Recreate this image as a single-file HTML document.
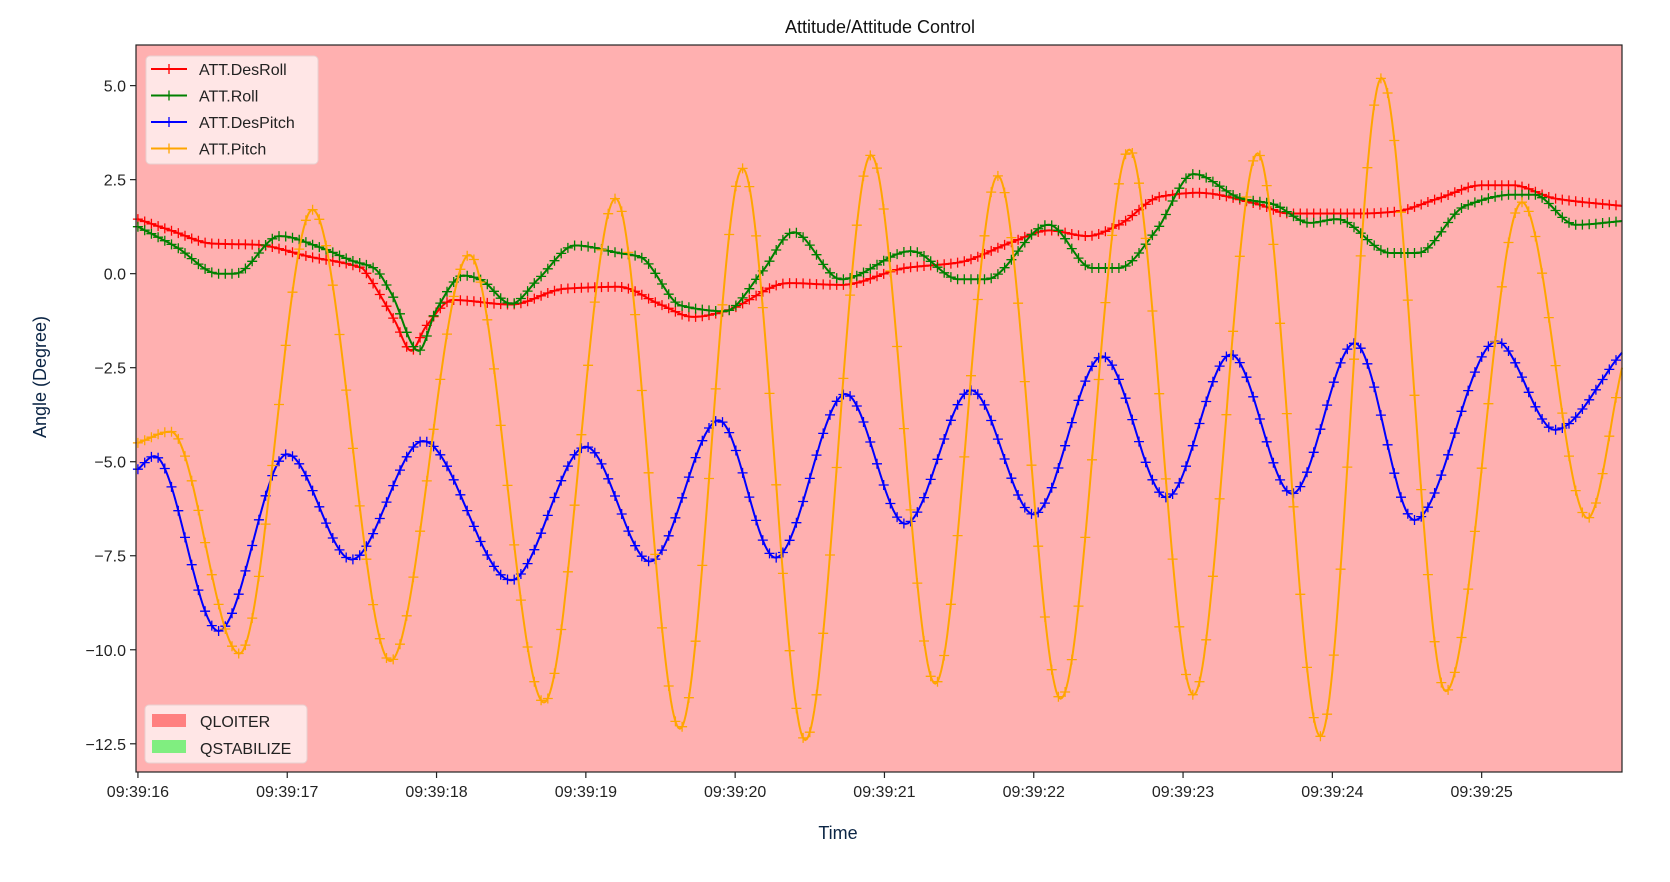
<!DOCTYPE html>
<html><head><meta charset="utf-8"><style>
html,body{margin:0;padding:0;background:#fff;}
svg{display:block;font-family:"Liberation Sans","DejaVu Sans",sans-serif;}
</style></head><body>
<svg id="chart" width="1670" height="882" viewBox="0 0 1670 882" xmlns="http://www.w3.org/2000/svg">
<text x="880" y="33" text-anchor="middle" font-size="18" fill="#111">Attitude/Attitude Control</text>
<rect x="136" y="45" width="1486" height="727" fill="#ffb0b0"/>
<g id="grid"></g>
<g id="series"></g>
<rect x="136" y="45" width="1486" height="727" fill="none" stroke="#222" stroke-width="1.2"/>
<g id="axes"></g>
<text transform="translate(46,377) rotate(-90)" text-anchor="middle" font-size="18" fill="#0b2545">Angle (Degree)</text>
<text x="838" y="839" text-anchor="middle" font-size="18" fill="#0b2545">Time</text>
<g>
<rect x="146" y="56" width="172" height="108" rx="4" fill="#fff0f0" fill-opacity="0.85" stroke="#e8d0d0"/>
<g id="legend-items"></g>
</g>
<g>
<rect x="145" y="705" width="162" height="58" rx="4" fill="#fff0f0" fill-opacity="0.85" stroke="#e8d0d0"/>
<rect x="152" y="714" width="34" height="13" fill="#ff8080"/>
<text x="200" y="727" font-size="16" fill="#222">QLOITER</text>
<rect x="152" y="740" width="34" height="13" fill="#80ee80"/>
<text x="200" y="754" font-size="16" fill="#222">QSTABILIZE</text>
</g>
</svg>
<script>
const xTickLabels=["09:39:16","09:39:17","09:39:18","09:39:19","09:39:20","09:39:21","09:39:22","09:39:23","09:39:24","09:39:25"];
const yTicks=[5,2.5,0,-2.5,-5,-7.5,-10,-12.5];
const seriesNames=["ATT.DesRoll","ATT.Roll","ATT.DesPitch","ATT.Pitch"];
const seriesColors=["#ff0000","#008000","#0000ff","#ffa500"];
// times in seconds after 09:39:16
const desRollT=[0,0.22,0.5,0.79,1.15,1.5,1.54,1.72,1.83,1.93,2.11,2.5,2.86,3.22,3.5,3.72,3.93,4.36,4.71,5.14,5.5,5.86,6.1,6.36,6.57,6.85,7.1,7.5,7.71,8.2,8.42,8.71,9.0,9.21,9.49,9.94];
const desRollV=[1.45,1.15,0.8,0.77,0.45,0.15,-0.05,-1.25,-2.05,-1.4,-0.7,-0.82,-0.4,-0.35,-0.82,-1.15,-1.0,-0.25,-0.3,0.15,0.3,0.85,1.15,1.0,1.3,2.05,2.15,1.85,1.6,1.6,1.65,2.0,2.35,2.35,2.0,1.8];
const rollT=[0,0.26,0.54,0.65,0.95,1.22,1.43,1.58,1.7,1.88,2.0,2.18,2.29,2.5,2.68,2.93,3.22,3.36,3.64,3.93,4.18,4.39,4.71,5.18,5.5,5.68,6.1,6.39,6.57,6.82,7.07,7.39,7.6,7.85,8.03,8.39,8.57,8.89,9.21,9.35,9.63,9.94];
const rollV=[1.25,0.7,0.0,0.0,1.0,0.7,0.35,0.15,-0.55,-2.05,-0.95,-0.05,-0.15,-0.8,-0.15,0.75,0.55,0.45,-0.85,-1.0,0.05,1.1,-0.15,0.6,-0.15,-0.15,1.3,0.15,0.15,1.15,2.65,2.0,1.85,1.35,1.45,0.55,0.55,1.8,2.1,2.1,1.3,1.4];
const desPitchT=[0,0.11,0.54,1.0,1.43,1.91,2.5,3.0,3.43,3.89,4.27,4.74,5.14,5.58,6.0,6.46,6.89,7.32,7.73,8.15,8.55,9.1,9.49,9.94];
const desPitchV=[-5.2,-4.85,-9.5,-4.8,-7.6,-4.45,-8.15,-4.6,-7.65,-3.9,-7.55,-3.2,-6.65,-3.1,-6.4,-2.2,-5.95,-2.15,-5.85,-1.85,-6.55,-1.8,-4.15,-2.1];
const pitchT=[0,0.22,0.68,1.17,1.69,2.22,2.72,3.2,3.63,4.05,4.47,4.91,5.34,5.76,6.18,6.64,7.07,7.5,7.92,8.33,8.76,9.27,9.71,9.94];
const pitchV=[-4.5,-4.2,-10.1,1.7,-10.3,0.5,-11.4,2.0,-12.1,2.8,-12.4,3.15,-10.9,2.6,-11.3,3.3,-11.2,3.2,-12.3,5.2,-11.1,1.9,-6.5,-2.5];

const X0=136,X1=1622,Y0=45,Y1=772;
const tMin=-0.013,tMax=9.94,vMin=-13.25,vMax=6.08;
function xs(t){return X0+(t-tMin)/(tMax-tMin)*(X1-X0);}
function ys(v){return Y0+(vMax-v)/(vMax-vMin)*(Y1-Y0);}
const NS="http://www.w3.org/2000/svg";
function mk(tag,attrs,parent){const e=document.createElementNS(NS,tag);for(const k in attrs)e.setAttribute(k,attrs[k]);parent.appendChild(e);return e;}

function interp(T,V){
  const n=T.length,d=[],m=new Array(n);
  for(let i=0;i<n-1;i++)d.push((V[i+1]-V[i])/(T[i+1]-T[i]));
  m[0]=d[0];m[n-1]=d[n-2];
  for(let i=1;i<n-1;i++){ if(d[i-1]*d[i]<=0)m[i]=0; else m[i]=2/(1/d[i-1]+1/d[i]); }
  return function(t){
    let i=0;while(i<n-2&&t>T[i+1])i++;
    const h=T[i+1]-T[i],s=Math.min(1,Math.max(0,(t-T[i])/h));
    const h00=2*s*s*s-3*s*s+1,h10=s*s*s-2*s*s+s,h01=-2*s*s*s+3*s*s,h11=s*s*s-s*s;
    return h00*V[i]+h10*h*m[i]+h01*V[i+1]+h11*h*m[i+1];
  };
}

const axes=document.getElementById('axes');
xTickLabels.forEach((lab,i)=>{
  const x=xs(i);
  const l=mk('line',{x1:x,y1:Y1,x2:x,y2:Y1+6,stroke:'#222','stroke-width':1.2},axes);
  
  
  const t=mk('text',{x:x,y:Y1+25,'text-anchor':'middle','font-size':16,fill:'#222'},axes);
  
  
  t.textContent=lab;
});
yTicks.forEach(v=>{
  const y=ys(v);
  const l=mk('line',{x1:X0-6,y1:y,x2:X0,y2:y,stroke:'#222','stroke-width':1.2},axes);
  
  
  const t=mk('text',{x:X0-10,y:y+6,'text-anchor':'end','font-size':16,fill:'#222'},axes);
  
  
  t.textContent=(v<0?'\u2212':'')+Math.abs(v).toFixed(1);
});

const sg=document.getElementById('series');
const data=[[desRollT,desRollV],[rollT,rollV],[desPitchT,desPitchV],[pitchT,pitchV]];
const keys=['desroll','roll','despitch','pitch'];
data.forEach((dv,si)=>{
  const f=interp(dv[0],dv[1]);
  const T=dv[0];const t0=T[0],t1=T[T.length-1];
  let d='';
  for(let t=t0;t<=t1+1e-9;t+=0.01){d+=(d?'L':'M')+xs(t).toFixed(1)+','+ys(f(t)).toFixed(1);}
  const g=mk('g',{},sg);
  
  
  mk('path',{d:d,fill:'none',stroke:seriesColors[si],'stroke-width':2},g);
  let md='';
  for(let t=t0;t<=t1+1e-9;t+=0.045){const x=xs(t),y=ys(f(t));md+=`M${(x-5).toFixed(1)},${y.toFixed(1)}h10M${x.toFixed(1)},${(y-5).toFixed(1)}v10`;}
  const mp=mk('path',{d:md,fill:'none',stroke:seriesColors[si],'stroke-width':1.3},g);
  
  
});

const lg=document.getElementById('legend-items');
seriesNames.forEach((nm,i)=>{
  const y=69+i*26.5;
  const g=mk('g',{},lg);
  
  
  mk('line',{x1:151,y1:y,x2:187,y2:y,stroke:seriesColors[i],'stroke-width':2},g);
  mk('path',{d:`M164,${y}h10M169,${y-5}v10`,stroke:seriesColors[i],'stroke-width':1.3},g);
  const t=mk('text',{x:199,y:y+6,'font-size':16,fill:'#222'},g);
  t.textContent=nm;
});
</script>
</body></html>
